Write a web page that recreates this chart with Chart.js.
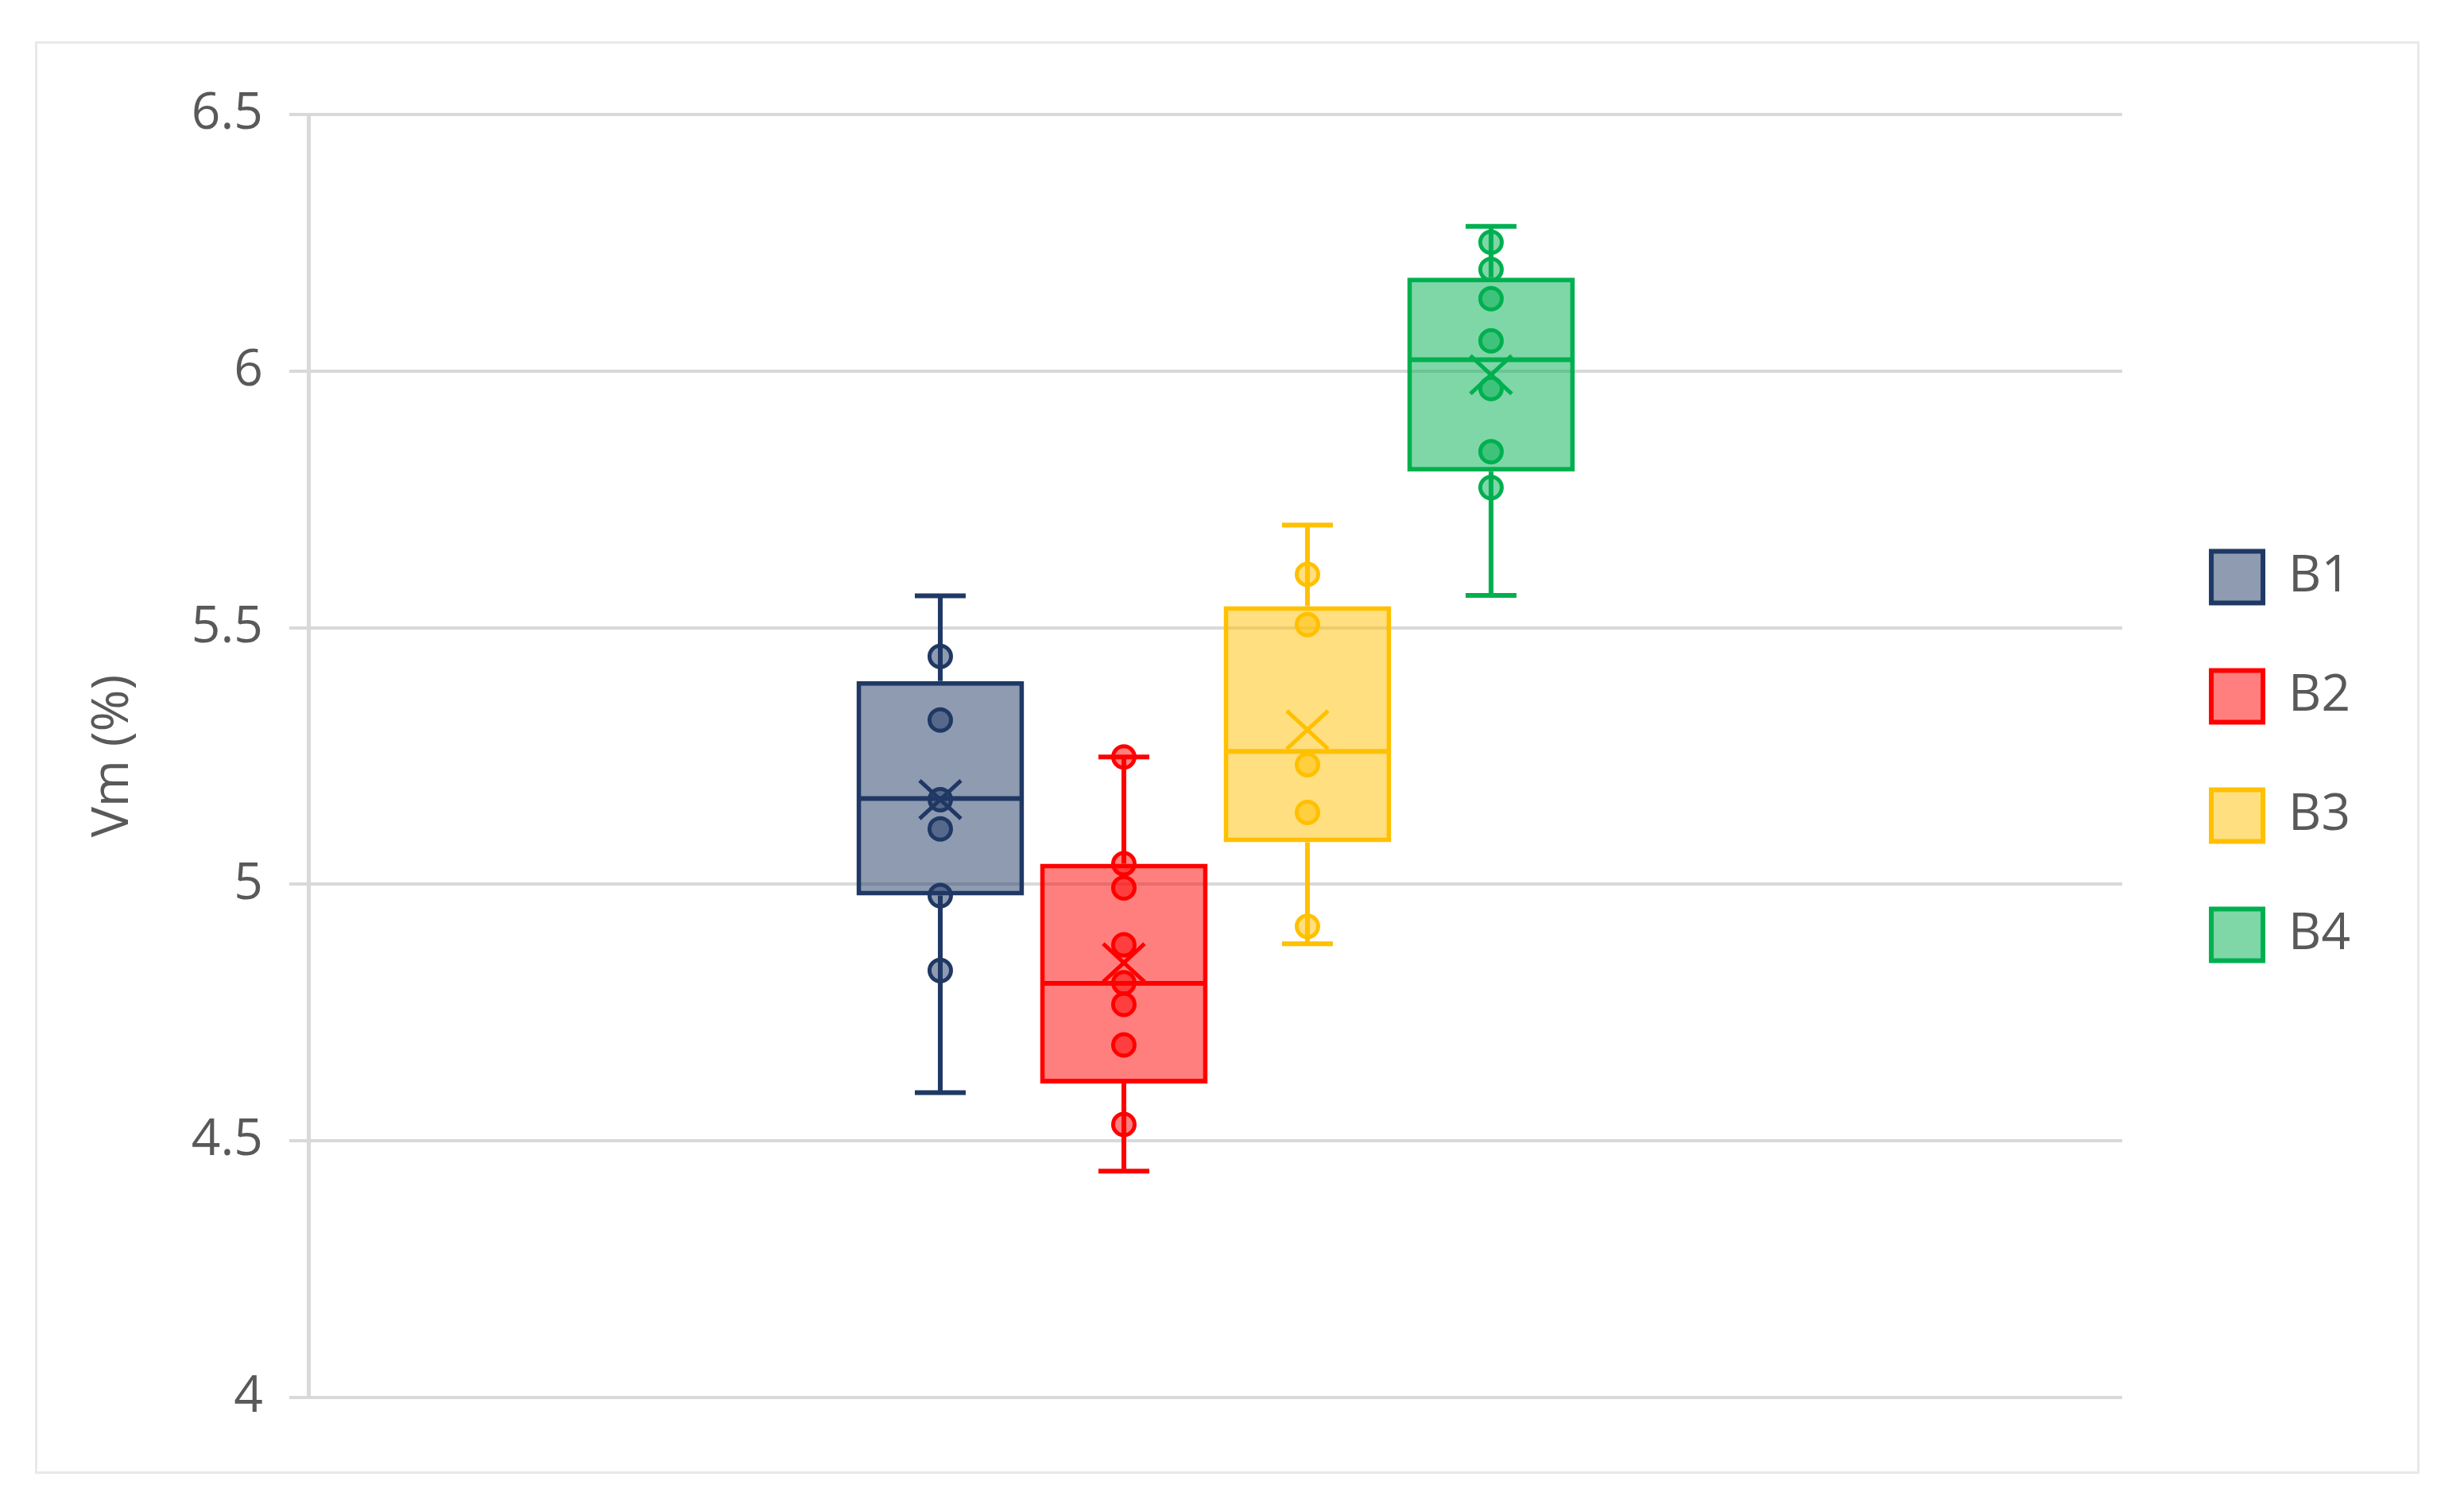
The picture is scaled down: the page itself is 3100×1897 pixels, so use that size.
<!DOCTYPE html>
<html>
<head>
<meta charset="utf-8">
<title>Vm (%) box plot</title>
<script src="https://cdn.jsdelivr.net/npm/chart.js@4.4.1/dist/chart.umd.min.js"></script>
<style>
  body { margin: 0; background: #fff; }
  #frame {
    position: absolute;
    left: 44px;
    top: 52px;
    width: 2994px;
    height: 1796px;
    border: 3px solid #e9e9e9;
  }
</style>
</head>
<body>
<div id="frame"><canvas id="chart"></canvas></div>
<script>
// series names and colours
const seriesNames = ['B1', 'B2', 'B3', 'B4'];
const lineColors = ['#1f3864', '#ff0000', '#ffc000', '#00b050'];
const fillColors = ['rgba(31,56,100,0.5)', 'rgba(255,0,0,0.5)', 'rgba(255,192,0,0.5)', 'rgba(0,176,80,0.5)'];

// box statistics
const mins    = [4.594, 4.441, 4.884, 5.563];
const q1s     = [4.978, 4.612, 5.082, 5.804];
const medians = [5.167, 4.807, 5.259, 6.022];
const q3s     = [5.396, 5.040, 5.542, 6.182];
const maxs    = [5.562, 5.248, 5.700, 6.282];
const means   = [5.165, 4.847, 5.301, 5.993];

// inner points shown on each box
const pointsB1 = [5.444, 5.320, 5.165, 5.108, 4.978, 4.832];
const pointsB2 = [5.248, 5.040, 4.993, 4.882, 4.808, 4.766, 4.687, 4.532];
const pointsB3 = [5.604, 5.506, 5.233, 5.140, 4.918];
const pointsB4 = [6.251, 6.198, 6.141, 6.059, 5.966, 5.843, 5.773];
const innerPoints = [pointsB1, pointsB2, pointsB3, pointsB4];

// y axis
const yMin = 4;
const yMax = 6.5;
const yStep = 0.5;
const yTitle = 'Vm (%)';

const fontFamily = "'Open Sans', 'Liberation Sans', sans-serif";
const textColor = '#595959';
const gridColor = '#d9d9d9';

// whiskers, medians, means and points drawn on top of the floating bars
const boxExtras = {
  id: 'boxExtras',
  afterDatasetsDraw(chart) {
    const ctx = chart.ctx;
    const y = chart.scales.y;
    const capHalf = 32;
    chart.data.datasets.forEach((ds, i) => {
      const bar = chart.getDatasetMeta(i).data[0];
      const x = bar.x;
      const half = bar.width / 2;
      ctx.save();
      ctx.strokeStyle = lineColors[i];
      ctx.lineWidth = 6;

      // whiskers and caps
      ctx.beginPath();
      ctx.moveTo(x, y.getPixelForValue(maxs[i]));
      ctx.lineTo(x, y.getPixelForValue(q3s[i]));
      ctx.moveTo(x, y.getPixelForValue(q1s[i]));
      ctx.lineTo(x, y.getPixelForValue(mins[i]));
      [maxs[i], mins[i]].forEach(v => {
        const py = y.getPixelForValue(v);
        ctx.moveTo(x - capHalf, py);
        ctx.lineTo(x + capHalf, py);
      });
      // median
      const my = y.getPixelForValue(medians[i]);
      ctx.moveTo(x - half + 3, my);
      ctx.lineTo(x + half - 3, my);
      ctx.stroke();

      // inner points
      ctx.lineWidth = 5;
      ctx.fillStyle = fillColors[i];
      innerPoints[i].forEach(v => {
        ctx.beginPath();
        ctx.arc(x, y.getPixelForValue(v), 13.5, 0, Math.PI * 2);
        ctx.fill();
        ctx.stroke();
      });

      // mean marker
      const mean = y.getPixelForValue(means[i]);
      ctx.lineWidth = 5;
      ctx.beginPath();
      ctx.moveTo(x - 26, mean - 24);
      ctx.lineTo(x + 26, mean + 24);
      ctx.moveTo(x - 26, mean + 24);
      ctx.lineTo(x + 26, mean - 24);
      ctx.stroke();
      ctx.restore();
    });
  }
};

const datasets = seriesNames.map((name, i) => ({
  label: name,
  data: [[q1s[i], q3s[i]]],
  backgroundColor: fillColors[i],
  borderColor: lineColors[i],
  borderWidth: 6,
  borderSkipped: false
}));

new Chart(document.getElementById('chart').getContext('2d'), {
  type: 'bar',
  data: {
    labels: [''],
    datasets: datasets
  },
  options: {
    responsive: true,
    maintainAspectRatio: false,
    animation: false,
    categoryPercentage: 0.405,
    barPercentage: 0.913,
    layout: {
      padding: { left: 10, right: 74, top: 89, bottom: 93 }
    },
    plugins: {
      tooltip: { enabled: false },
      legend: {
        position: 'right',
        labels: {
          boxWidth: 65,
          boxHeight: 65,
          padding: 85,
          color: textColor,
          font: { size: 64, family: fontFamily }
        }
      }
    },
    scales: {
      x: {
        display: false
      },
      y: {
        min: yMin,
        max: yMax,
        ticks: {
          stepSize: yStep,
          padding: 33,
          color: textColor,
          font: { size: 64, family: fontFamily },
          callback: value => String(value)
        },
        grid: {
          color: gridColor,
          lineWidth: 4,
          tickLength: 25,
          drawTicks: true
        },
        border: {
          display: true,
          color: gridColor,
          width: 5
        },
        title: {
          display: true,
          text: yTitle,
          color: textColor,
          font: { size: 64, family: fontFamily },
          padding: { top: 47, bottom: 27 }
        }
      },
      // empty axis only to leave the gap between plot and legend
      gap: {
        type: 'linear',
        position: 'right',
        display: true,
        ticks: { display: false },
        grid: { display: false },
        border: { display: false },
        afterFit(scale) { scale.width = 27; }
      }
    }
  },
  plugins: [boxExtras]
});
</script>
</body>
</html>
